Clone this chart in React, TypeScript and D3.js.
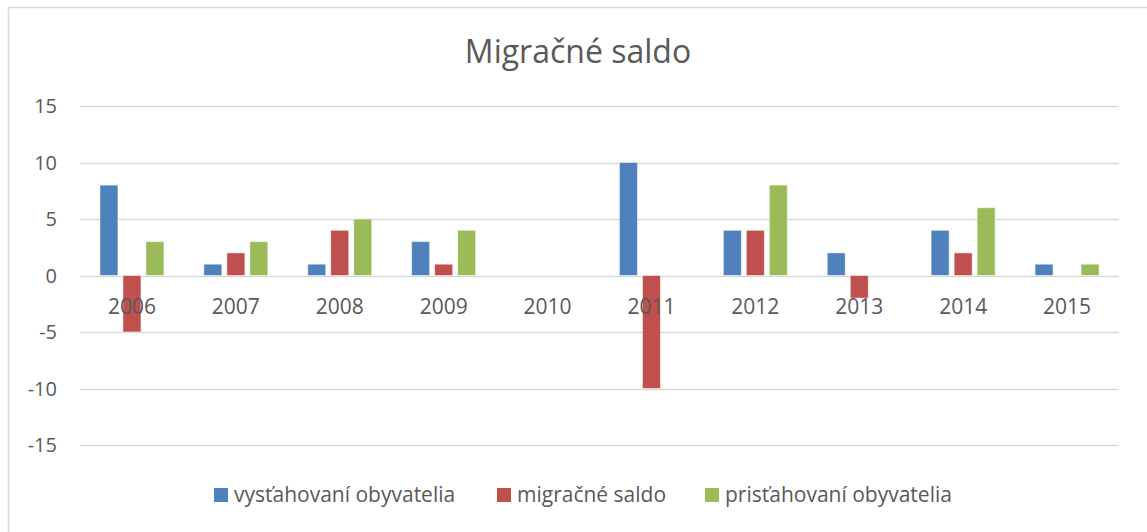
import React, { useEffect, useRef } from "react";
import * as d3 from "d3";

// years on the x axis
const years = ["2006", "2007", "2008", "2009", "2010", "2011", "2012", "2013", "2014", "2015"];
const seriesNames = ["vysťahovaní obyvatelia", "migračné saldo", "prisťahovaní obyvatelia"];
const vystahovani = [8, 1, 1, 3, 0, 10, 4, 2, 4, 1];
const saldo = [-5, 2, 4, 1, 0, -10, 4, -2, 2, 0];
const pristahovani = [3, 3, 5, 4, 0, 0, 8, 0, 6, 1];
const yTicks = [-15, -10, -5, 0, 5, 10, 15];
const colors = ["#4F81BD", "#C0504D", "#9BBB59"];

const W = 1147;
const H = 532;
const FONT = "'Open Sans', sans-serif";

export default function App() {
  const ref = useRef<SVGSVGElement>(null);

  useEffect(() => {
    const svg = d3.select(ref.current);
    svg.selectAll("*").remove();

    const plot = { left: 80, right: 1119, top: 106, bottom: 445 };

    // outer frame of the chart area
    svg.append("rect")
      .attr("x", 8.5).attr("y", 7.5)
      .attr("width", W + 20).attr("height", H + 20)
      .attr("fill", "white").attr("stroke", "#D9D9D9").attr("stroke-width", 1.5);

    // title
    svg.append("text")
      .attr("x", 578).attr("y", 63)
      .attr("text-anchor", "middle")
      .attr("font-family", FONT).attr("font-size", 32)
      .attr("fill", "#595959")
      .text("Migračné saldo");

    const y = d3.scaleLinear().domain([-15, 15]).range([plot.bottom, plot.top]);
    const x0 = d3.scaleBand().domain(years).range([plot.left, plot.right]).paddingInner(0);
    const groupW = 64;
    const x1 = d3.scaleBand().domain(seriesNames).range([0, groupW]).paddingInner(5 / 23);

    // gridlines
    svg.append("g").selectAll("line")
      .data(yTicks)
      .join("line")
      .attr("x1", plot.left).attr("x2", plot.right)
      .attr("y1", d => Math.round(y(d)) + 0.5).attr("y2", d => Math.round(y(d)) + 0.5)
      .attr("stroke", "#D9D9D9").attr("stroke-width", 1.5);

    // y tick labels
    svg.append("g").selectAll("text")
      .data(yTicks)
      .join("text")
      .attr("x", 57).attr("y", d => y(d))
      .attr("dy", "0.35em")
      .attr("text-anchor", "end")
      .attr("font-family", FONT).attr("font-size", 20)
      .attr("fill", "#595959")
      .text(d => d);

    // bars
    const table = years.map((yr, i) => ({
      year: yr,
      values: [vystahovani[i], saldo[i], pristahovani[i]],
    }));

    const groups = svg.append("g").selectAll("g")
      .data(table)
      .join("g")
      .attr("transform", d => `translate(${x0(d.year)! + (x0.bandwidth() - groupW) / 2},0)`);

    groups.selectAll("rect")
      .data(d => d.values.map((v, k) => ({ v, k })))
      .join("rect")
      .attr("x", d => x1(seriesNames[d.k])!)
      .attr("width", x1.bandwidth())
      .attr("y", d => Math.min(y(d.v), y(0)))
      .attr("height", d => Math.abs(y(d.v) - y(0)))
      .attr("fill", d => colors[d.k])
      .attr("stroke", "white").attr("stroke-opacity", 0.5).attr("stroke-width", 1);

    // category labels, drawn over the bars like Excel does
    svg.append("g").selectAll("text")
      .data(years)
      .join("text")
      .attr("x", d => x0(d)! + x0.bandwidth() / 2)
      .attr("y", y(0) + 31)
      .attr("dy", "0.35em")
      .attr("text-anchor", "middle")
      .attr("font-family", FONT).attr("font-size", 21)
      .attr("fill", "#595959")
      .text(d => d);

    // legend
    const legendX = [214, 497, 705];
    const legend = svg.append("g").selectAll("g")
      .data(seriesNames)
      .join("g")
      .attr("transform", (d, i) => `translate(${legendX[i]},495)`);
    legend.append("rect")
      .attr("x", 0).attr("y", -7).attr("width", 14).attr("height", 14)
      .attr("fill", (d, i) => colors[i]);
    legend.append("text")
      .attr("x", 20).attr("y", 0).attr("dy", "0.35em")
      .attr("font-family", FONT).attr("font-size", 21)
      .attr("fill", "#595959")
      .text(d => d);
  }, []);

  return (
    <svg
      ref={ref}
      width={W}
      height={H}
      style={{ position: "absolute", left: 0, top: 0, display: "block", background: "white" }}
    />
  );
}
